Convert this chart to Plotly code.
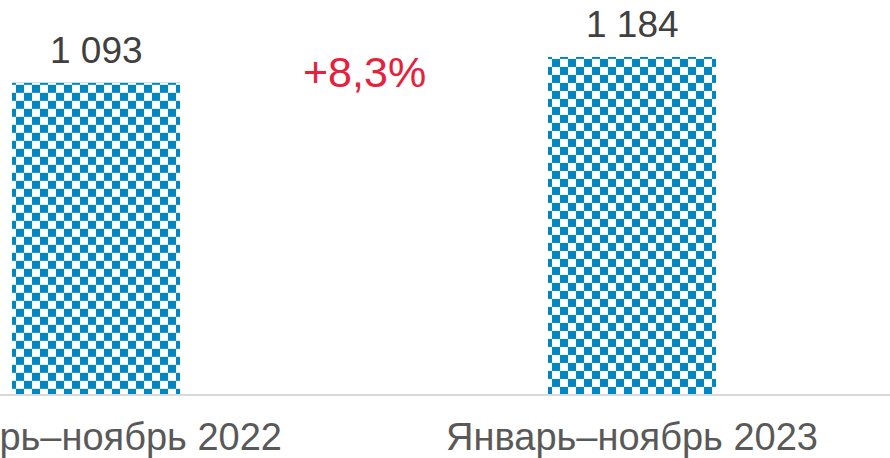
import base64
import plotly.graph_objects as go

# ---- data ----
categories = ["Январь–ноябрь 2022", "Январь–ноябрь 2023"]
values = [1093, 1184]

# ---- style ----
BLUE = "#0086c1"
RED = "#e8203a"
FONT = "Arial, Liberation Sans, sans-serif"
W, H = 890, 458
M_L, M_R, M_T, M_B = 0, 0, 0, 64
X_RANGE = [-0.1791, 1.4813]
Y_MAX = 1384
BAR_W = 0.3134
CELL = 8

plot_w = W - M_L - M_R
plot_h = H - M_T - M_B
px_x = plot_w / (X_RANGE[1] - X_RANGE[0])
px_y = plot_h / Y_MAX

xs = list(range(len(categories)))


def checker_uri(wpx, hpx, cell, color):
    c2 = 2 * cell
    svg = (
        f'<svg xmlns="http://www.w3.org/2000/svg" width="{wpx:.2f}" height="{hpx:.2f}" '
        f'viewBox="0 0 {wpx:.2f} {hpx:.2f}" preserveAspectRatio="none" shape-rendering="crispEdges">'
        f'<defs><pattern id="c" x="4" y="2" width="{c2}" height="{c2}" patternUnits="userSpaceOnUse">'
        f'<rect width="{c2}" height="{c2}" fill="#ffffff"/>'
        f'<rect width="{cell}" height="{cell}" fill="{color}"/>'
        f'<rect x="{cell}" y="{cell}" width="{cell}" height="{cell}" fill="{color}"/>'
        f'</pattern></defs><rect width="100%" height="100%" fill="url(#c)"/></svg>'
    )
    return "data:image/svg+xml;base64," + base64.b64encode(svg.encode("utf-8")).decode("ascii")


fig = go.Figure()
fig.add_trace(go.Bar(
    x=xs, y=values, width=BAR_W,
    marker=dict(color=BLUE, line=dict(width=0)),
    hoverinfo="skip", showlegend=False,
))

images = []
for x, v in zip(xs, values):
    images.append(dict(
        source=checker_uri(BAR_W * px_x, v * px_y, CELL, BLUE),
        xref="x", yref="y", x=x - BAR_W / 2, y=v,
        sizex=BAR_W, sizey=v, xanchor="left", yanchor="top",
        sizing="stretch", layer="above",
    ))

annotations = []
for x, v in zip(xs, values):
    annotations.append(dict(
        x=x, y=v, xref="x", yref="y", text=f"{v:,}".replace(",", " "),
        showarrow=False, yanchor="bottom", yshift=10,
        font=dict(family=FONT, size=37, color="#404040"),
    ))

pct = (values[1] / values[0] - 1) * 100
annotations.append(dict(
    x=0.5, y=(plot_h - 72) / plot_h, xref="x", yref="paper",
    text=f"+{pct:.1f}%".replace(".", ","), showarrow=False,
    yanchor="middle", xanchor="center",
    font=dict(family=FONT, size=43, color=RED),
))

fig.update_layout(
    width=W, height=H,
    margin=dict(l=M_L, r=M_R, t=M_T, b=M_B, pad=0, autoexpand=False),
    paper_bgcolor="white", plot_bgcolor="white",
    images=images, annotations=annotations,
    hovermode=False,
    xaxis=dict(
        range=X_RANGE, tickvals=xs, ticktext=categories,
        showgrid=False, zeroline=False, showline=True,
        linecolor="#d9d9d9", linewidth=2, ticks="",
        tickfont=dict(family=FONT, size=38, color="#595959"),
        ticklabeloverflow="allow", automargin=False,
        ticklabelstandoff=8, fixedrange=True,
    ),
    yaxis=dict(range=[0, Y_MAX], visible=False, automargin=False, fixedrange=True),
)

fig.write_html(
    "out.html",
    config={"displayModeBar": False, "staticPlot": True},
    post_script="document.body.style.margin='0';document.body.style.overflow='hidden';",
)
